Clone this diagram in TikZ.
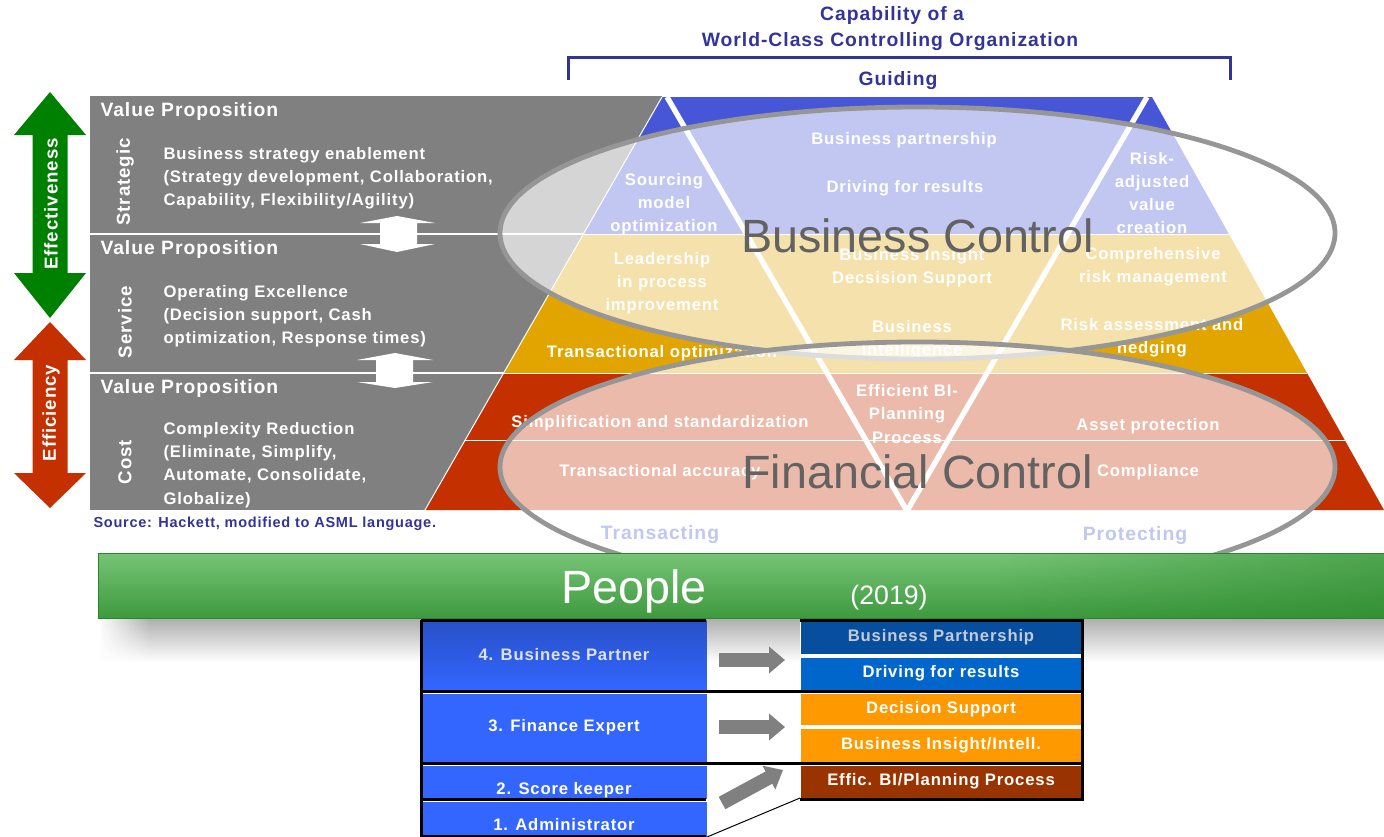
\documentclass[tikz,border=0pt]{standalone}
\usepackage{fontspec}
\setmainfont{Liberation Sans}
\newfontfamily\trackfont{Liberation Sans}[LetterSpace=5]
\usetikzlibrary{arrows.meta,fadings}

\definecolor{capblue}{RGB}{51,51,153}
\definecolor{guideblue}{RGB}{70,86,214}
\definecolor{svcorange}{RGB}{226,165,0}
\definecolor{costred}{RGB}{196,48,0}
\definecolor{panelgray}{RGB}{128,128,128}
\definecolor{ringgray}{RGB}{150,150,150}
\definecolor{ringtxt}{RGB}{98,98,98}
\definecolor{effgreen}{RGB}{0,128,0}
\definecolor{barlight}{RGB}{155,212,155}
\definecolor{bartop}{RGB}{118,196,118}
\definecolor{bardark}{RGB}{62,154,62}
\definecolor{barline}{RGB}{40,135,40}
\definecolor{cellblue}{RGB}{51,102,255}
\definecolor{celltop}{RGB}{40,80,200}
\definecolor{bpblue}{RGB}{8,78,158}
\definecolor{drblue}{RGB}{0,102,204}
\definecolor{dsorange}{RGB}{255,153,0}
\definecolor{bibrown}{RGB}{153,51,0}
\definecolor{bptxt}{RGB}{195,202,215}
\definecolor{arrgray}{RGB}{128,128,128}

\newcommand\lblfont{\trackfont\bfseries\fontsize{12.5}{17.4}\selectfont}
\newcommand\headfont{\trackfont\bfseries\fontsize{14.5}{17}\selectfont}
\newcommand\sidefont{\trackfont\bfseries\fontsize{14}{16}\selectfont}
\newcommand\srcfont{\trackfont\bfseries\fontsize{10.9}{12}\selectfont}
\newcommand\ringfont{\fontsize{35}{40}\selectfont}

\tikzset{
	pyrtxt/.style={text=white, font=\lblfont, align=center, inner sep=0pt},
	paneltxt/.style={text=white, font=\lblfont, align=left, anchor=west, inner sep=0pt},
	vptxt/.style={text=white, font=\headfont, anchor=west, inner sep=0pt},
	sidetxt/.style={text=white, font=\sidefont, rotate=90, inner sep=0pt},
	titletxt/.style={text=capblue, font=\headfont, inner sep=0pt},
	ring/.style={draw=ringgray, line width=3.6pt, fill=white, fill opacity=0.67},
	ringlbl/.style={text=ringtxt, font=\ringfont, anchor=base, inner sep=0pt},
	lcell/.style={anchor=north west, inner sep=0pt, minimum width=213.75pt, text=white, font=\lblfont, fill=cellblue},
	rcell/.style={anchor=north west, inner sep=0pt, minimum width=210.75pt, text=white, font=\lblfont},
	tblline/.style={line width=2.25pt, black},
	blockarrow/.style={draw=arrgray, line width=10.5pt, -{Triangle[width=19.5pt,length=12pt]}}
}
\tikzset{every picture/.style={line width=0.75pt}}

\begin{document}
\begin{tikzpicture}[x=0.75pt,y=0.75pt,yscale=-1,xscale=1]
	\useasboundingbox (0,0) rectangle (1384,836);

	% Title and bracket
	\node[titletxt] (cap1) at (892,15) {Capability of a};
	\node[titletxt] (cap2) at (890,42) {World-Class Controlling Organization};
	\draw[capblue, line width=2.25pt] (568,80) -- (568,57) -- (1230,57) -- (1230,80);
	\node[titletxt] (guide) at (898,81) {Guiding};

	%Shape: Double Arrow (effectiveness)
	\fill[effgreen] (50,92) -- (86,135) -- (67.5,135) -- (67.5,273) -- (86,273) -- (50,318) -- (14,273) -- (32.5,273) -- (32.5,135) -- (14,135) -- cycle;
	\node[sidetxt] (effect) at (51,204) {Effectiveness};
	%Shape: Double Arrow (efficiency)
	\fill[costred] (50,322) -- (86,360) -- (67.5,360) -- (67.5,473) -- (86,473) -- (50,508) -- (14,473) -- (32.5,473) -- (32.5,360) -- (14,360) -- cycle;
	\node[sidetxt] (effic) at (51,413) {Efficiency};

	%Shape: Value proposition panel
	\fill[panelgray] (90,96) rectangle (662,510);
	\draw[white, line width=1.5pt] (90,233.5) -- (584,233.5);
	\draw[white, line width=1.5pt] (90,372.5) -- (504,372.5);

	%Shape: Up-down arrows
	\fill[white] (397,216) -- (435,223) -- (417,223) -- (417,244) -- (435,244) -- (397,252) -- (360,244) -- (380,244) -- (380,223) -- (360,223) -- cycle;
	\fill[white] (395,353) -- (433,360) -- (413,360) -- (413,382) -- (433,382) -- (395,388) -- (357,382) -- (376,382) -- (376,360) -- (357,360) -- cycle;

	% Text Node
	\node[vptxt] (vp1) at (100,111) {Value Proposition};
	\node[vptxt] (vp2) at (100,249) {Value Proposition};
	\node[vptxt] (vp3) at (100,388) {Value Proposition};
	\node[sidetxt] (strat) at (125,182) {Strategic};
	\node[sidetxt] (serv) at (125,322) {Service};
	\node[sidetxt] (cost) at (125,462) {Cost};
	\node[paneltxt] (stratbody) at (163,178) {Business strategy enablement\\(Strategy development, Collaboration,\\Capability, Flexibility/Agility)};
	\node[paneltxt] (servbody) at (163,316) {Operating Excellence\\(Decision support, Cash\\optimization, Response times)};
	\node[paneltxt] (costbody) at (163,465) {Complexity Reduction\\(Eliminate, Simplify,\\Automate, Consolidate,\\Globalize)};
	\node[text=capblue, font=\srcfont, anchor=west, inner sep=0pt] (src) at (93,524) {Source: Hackett, modified to ASML language.};

	%Shape: Pyramid bands
	\begin{scope}
		\clip (662,97) -- (1152,97) -- (1384,510) -- (425,510) -- cycle;
		\fill[guideblue] (400,90) rectangle (1390,234);
		\fill[svcorange] (400,234) rectangle (1390,373);
		\fill[costred] (400,373) rectangle (1390,511);
		\draw[white] (400,234) -- (1390,234);
		\draw[white] (400,373) -- (1390,373);
		\draw[white] (400,440) -- (1390,440);
	\end{scope}
	\draw[white] (662,97) -- (425,510);
	%Straight Lines: the V
	\draw[white, line width=4pt, line join=miter] (667,97) -- (907,511) -- (1147,97);

	% Text Node
	\node[pyrtxt] (bpart) at (904,140) {Business partnership};
	\node[pyrtxt] (drive) at (905,188) {Driving for results};
	\node[pyrtxt] (sourcing) at (664,204) {Sourcing\\model\\optimization};
	\node[pyrtxt] (riskadj) at (1152,193) {Risk-\\adjusted\\value\\creation};
	\node[pyrtxt] (leader) at (662,283) {Leadership\\in process\\improvement};
	\node[pyrtxt] (insight) at (912,268) {Business Insight\\Decsision Support};
	\node[pyrtxt] (bintel) at (912,340) {Business\\Intelligence};
	\node[pyrtxt] (comprisk) at (1153,267) {Comprehensive\\risk management};
	\node[pyrtxt] (hedge) at (1152,338) {Risk assessment and\\hedging};
	\node[pyrtxt] (transopt) at (662,353) {Transactional optimization};
	\node[pyrtxt] (simpl) at (660,423) {Simplification and standardization};
	\node[pyrtxt] (effbi) at (907,414) {Efficient BI-\\Planning\\Process};
	\node[pyrtxt] (asset) at (1148,426) {Asset protection};
	\node[pyrtxt] (transacc) at (660,472) {Transactional accuracy};
	\node[pyrtxt] (compl) at (1148,472) {Compliance};
	\node[pyrtxt, text=guideblue, font=\headfont] (transact) at (660,535) {Transacting};
	\node[pyrtxt, text=guideblue, font=\headfont] (protect) at (1135,536) {Protecting};

	%Shape: Ellipses
	\draw[ring] (917.5,233) ellipse [x radius=417.5, y radius=126];
	\draw[ring] (917.5,467) ellipse [x radius=417.5, y radius=125];
	\node[ringlbl] (busctrl) at (917.5,252) {Business Control};
	\node[ringlbl] (finctrl) at (917.5,488) {Financial Control};

	%Shape: People bar and its shadow
	\fill[black!32, path fading=south] (100,618) rectangle (1384,662);
	\fill[white, path fading=east] (98,618) rectangle (150,662);
	\shade[top color=bartop, middle color=barlight, bottom color=bardark] (98,553) rectangle (1384,618);
	\fill[barline, path fading=west, fill opacity=0.5] (1000,553) rectangle (1384,618);
	\draw[barline] (98,553) rectangle (1386,618);
	\node[text=white, font=\ringfont, anchor=base, inner sep=0pt] (people) at (634,603) {People};
	\node[text=white, font=\fontsize{20}{24}\selectfont, anchor=base, inner sep=0pt] (year) at (889,604) {(2019)};

	%Shape: Role table
	\fill[white] (800,620) rectangle (1082,797);
	\node[lcell, minimum height=51.75pt, top color=celltop, bottom color=cellblue, text={rgb,255:red,222;green,226;blue,240}] (lp4) at (421,620) {4. Business Partner};
	\node[lcell, minimum height=51pt] (lp3) at (421,693) {3. Finance Expert};
	\node[lcell, minimum height=24.75pt, text height=18pt, text depth=0pt] (lp2) at (421,765) {2. Score keeper};
	\node[lcell, minimum height=26.25pt, text height=17pt, text depth=0pt] (lp1) at (421,801) {1. Administrator};
	\node[rcell, fill=bpblue, minimum height=24.75pt, text=bptxt] (bp) at (800,620) {Business Partnership};
	\node[rcell, fill=drblue, minimum height=24pt] (dr) at (800,657) {Driving for results};
	\node[rcell, fill=dsorange, minimum height=23.25pt] (ds) at (800,693) {Decision Support};
	\node[rcell, fill=dsorange, minimum height=24.75pt] (bi) at (800,728) {Business Insight/Intell.};
	\node[rcell, fill=bibrown, minimum height=24pt] (ef) at (800,765) {Effic. BI/Planning Process};

	\draw[tblline] (421,620) -- (421,836) -- (706,836);
	\draw[tblline] (421,620) -- (706,620);
	\draw[tblline] (800,620) -- (1082.5,620) -- (1082.5,799) -- (800,799);
	\draw[tblline] (421,691) -- (1082.5,691);
	\draw[tblline] (421,763) -- (1082.5,763);
	\draw[tblline] (421,799.5) -- (706,799.5);
	\draw[black] (lp1.south east) -- (ef.south west);

	%Straight Lines: block arrows
	\coordinate (a4s) at (719,660);
	\coordinate (a4e) at (785,660);
	\coordinate (a3s) at (719,727);
	\coordinate (a3e) at (785,727);
	\coordinate (a2s) at (722,803);
	\coordinate (a2e) at (783,770);
	\draw[blockarrow] (a4s) -- (a4e);
	\draw[blockarrow] (a3s) -- (a3e);
	\draw[blockarrow] (a2s) -- (a2e);

\end{tikzpicture}
\end{document}
